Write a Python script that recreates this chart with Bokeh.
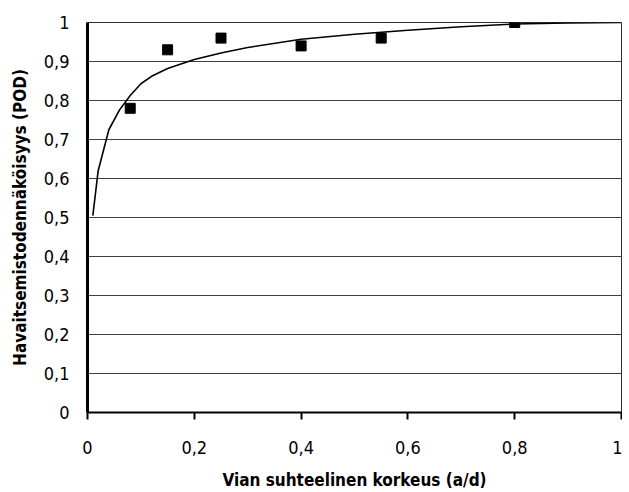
from bokeh.plotting import figure
from bokeh.models import FixedTicker, Range1d
from bokeh.embed import file_html
from bokeh.resources import INLINE

# measured data points
meas_x = [0.08, 0.15, 0.25, 0.40, 0.55, 0.80]
meas_y = [0.78, 0.93, 0.96, 0.94, 0.96, 1.00]

# fitted POD curve
curve_x = [0.01, 0.02, 0.04, 0.06, 0.08, 0.10, 0.12, 0.15, 0.20, 0.25, 0.30, 0.40, 0.50, 0.60, 0.70, 0.80, 0.90, 1.00]
curve_y = [0.505, 0.62, 0.725, 0.776, 0.813, 0.843, 0.862, 0.882, 0.905, 0.922, 0.936, 0.957, 0.970, 0.980, 0.989, 0.996, 0.999, 1.0]

x_ticks = [0, 0.2, 0.4, 0.6, 0.8, 1]
x_tick_labels = ["0", "0,2", "0,4", "0,6", "0,8", "1"]
y_ticks = [0, 0.1, 0.2, 0.3, 0.4, 0.5, 0.6, 0.7, 0.8, 0.9, 1]
y_tick_labels = ["0", "0,1", "0,2", "0,3", "0,4", "0,5", "0,6", "0,7", "0,8", "0,9", "1"]

x_title = "Vian suhteelinen korkeus (a/d)"
y_title = "Havaitsemistodennäköisyys (POD)"

FONT = "DejaVu Sans Condensed"

p = figure(width=622, height=492, output_backend="svg", toolbar_location=None,
           x_range=Range1d(0, 1), y_range=Range1d(0, 1),
           min_border_left=87, min_border_right=1, min_border_top=22, min_border_bottom=80)

p.line(curve_x, curve_y, line_color="black", line_width=1.6)
p.scatter(meas_x, meas_y, marker="square", size=10, fill_color="black", line_color="black")

p.xgrid.visible = False
p.ygrid.ticker = FixedTicker(ticks=y_ticks)
p.ygrid.grid_line_color = "#404040"
p.ygrid.grid_line_width = 1

p.outline_line_color = "#303030"
p.outline_line_width = 1
p.background_fill_color = "white"
p.border_fill_color = "white"

xa = p.xaxis[0]
xa.ticker = FixedTicker(ticks=x_ticks)
xa.major_label_overrides = {t: l for t, l in zip(x_ticks, x_tick_labels)}
xa.axis_line_color = "black"
xa.axis_line_width = 2
xa.major_tick_line_color = "black"
xa.major_tick_line_width = 2
xa.major_tick_out = 7
xa.major_tick_in = 0
xa.minor_tick_line_color = None
xa.major_label_standoff = 21
xa.major_label_text_font = FONT
xa.major_label_text_font_size = "18px"
xa.major_label_text_color = "black"
xa.axis_label = x_title
xa.axis_label_text_font = FONT
xa.axis_label_text_font_size = "17px"
xa.axis_label_text_font_style = "bold"
xa.axis_label_text_color = "black"
xa.axis_label_standoff = 13

ya = p.yaxis[0]
ya.ticker = FixedTicker(ticks=y_ticks)
ya.major_label_overrides = {t: l for t, l in zip(y_ticks, y_tick_labels)}
ya.axis_line_color = "black"
ya.axis_line_width = 3
ya.major_tick_line_color = None
ya.major_tick_out = 0
ya.major_tick_in = 0
ya.minor_tick_line_color = None
ya.major_label_standoff = 18
ya.major_label_text_font = FONT
ya.major_label_text_font_size = "18px"
ya.major_label_text_color = "black"
ya.axis_label = y_title
ya.axis_label_text_font = FONT
ya.axis_label_text_font_size = "17px"
ya.axis_label_text_font_style = "bold"
ya.axis_label_text_color = "black"
ya.axis_label_standoff = 11

open("out.html", "w").write(file_html(p, INLINE))
